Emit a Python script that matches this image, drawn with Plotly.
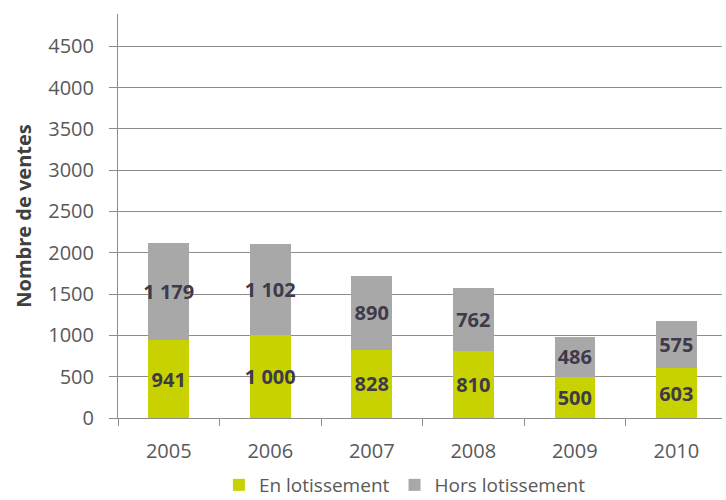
import plotly.graph_objects as go

years = ["2005", "2006", "2007", "2008", "2009", "2010"]
en_lotissement = [941, 1000, 828, 810, 500, 603]
hors_lotissement = [1179, 1102, 890, 762, 486, 575]

def fmt(v):
    return f"{v:,}".replace(",", " ")

green = "#c8d200"
grey = "#a8a8a8"
label_color = "#3f3a4a"
font_family = "Open Sans, Lato, sans-serif"

fig = go.Figure()
for name, vals, col in [("En lotissement", en_lotissement, green),
                        ("Hors lotissement", hors_lotissement, grey)]:
    fig.add_trace(go.Bar(
        x=years, y=vals, name=name,
        marker=dict(color=col, line=dict(width=0)),
        text=[fmt(v) for v in vals], textposition="inside",
        insidetextanchor="middle", textangle=0, constraintext="none",
        textfont=dict(size=20, color=label_color, family=font_family, weight="bold"),
        width=0.4,
    ))

fig.update_layout(
    barmode="stack",
    width=726, height=500,
    margin=dict(l=118, r=4, t=14, b=82, autoexpand=False),
    plot_bgcolor="white", paper_bgcolor="white",
    font=dict(family=font_family, color="#595959", size=20),
    showlegend=True,
    legend=dict(orientation="h", x=0.475, xanchor="center",
                yref="container", y=0.03, yanchor="middle",
                font=dict(size=19, color="#595959"), itemwidth=30, traceorder="normal",
                tracegroupgap=0, borderwidth=0),
)
fig.update_xaxes(
    type="category", range=[-0.5, 5.45],
    showline=True, linecolor="#8c8c8c", linewidth=1,
    ticks="outside", tickson="boundaries", ticklen=7, tickcolor="#8c8c8c",
    tickfont=dict(size=20, color="#595959"), ticklabelstandoff=15,
    showgrid=False,
)
fig.update_yaxes(
    range=[0, 4890], tickvals=[0, 500, 1000, 1500, 2000, 2500, 3000, 3500, 4000, 4500],
    showline=True, linecolor="#8c8c8c", linewidth=1,
    ticks="outside", ticklen=8, tickcolor="#8c8c8c",
    showgrid=True, gridcolor="#8c8c8c", gridwidth=1,
    tickfont=dict(size=20, color="#595959"), ticklabelstandoff=11,
    title=dict(text="Nombre de ventes", font=dict(size=20, color="#404040", weight="bold"), standoff=11),
    zeroline=False,
)

fig.write_html("out.html")
